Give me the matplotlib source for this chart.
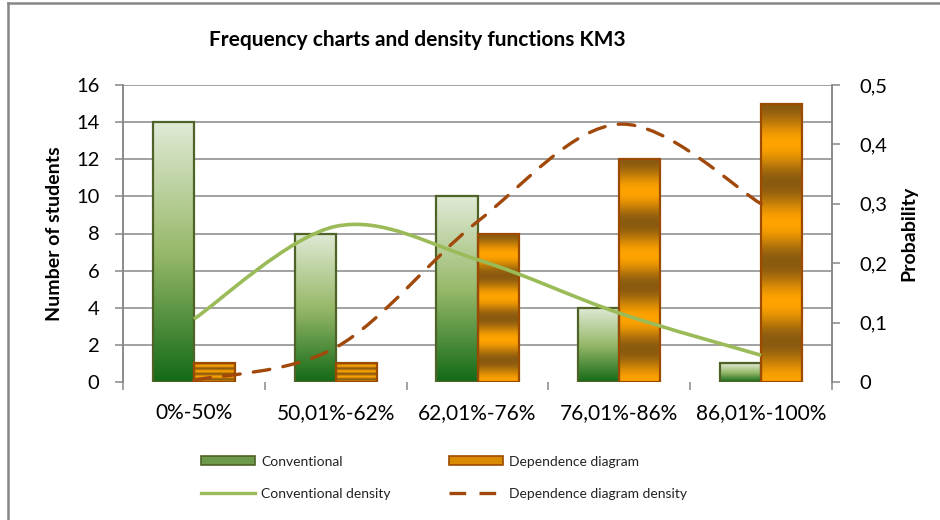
import numpy as np
import matplotlib
matplotlib.use("Agg")
import matplotlib.pyplot as plt
from matplotlib.path import Path
from matplotlib.patches import PathPatch, Patch
from matplotlib.lines import Line2D
from matplotlib.colors import to_rgb

categories = ["0%-50%", "50,01%-62%", "62,01%-76%", "76,01%-86%", "86,01%-100%"]
conventional = [14, 8, 10, 4, 1]
dependence = [1, 1, 8, 12, 15]
conv_density = [0.106, 0.262, 0.206, 0.116, 0.045]
dep_density = [0.003, 0.058, 0.27, 0.434, 0.30]
left_ticks = [0, 2, 4, 6, 8, 10, 12, 14, 16]
right_ticks = [0, 0.1, 0.2, 0.3, 0.4, 0.5]
right_labels = ["0", "0,1", "0,2", "0,3", "0,4", "0,5"]

plt.rcParams['font.family'] = ['Lato', 'DejaVu Sans']

W, H = 940, 520
fig = plt.figure(figsize=(W / 100, H / 100), dpi=100)
L, R, T, B = 123, 832, 85, 382
ax = fig.add_axes([L / W, 1 - B / H, (R - L) / W, (B - T) / H])
ax2 = ax.twinx()

x = np.arange(len(categories))
bw = 0.29
gray = "#878787"

green_edge = "#4F6228"
orange_edge = "#9C4A00"
bars_g = ax.bar(x - bw / 2, conventional, width=bw, facecolor="none",
                edgecolor=green_edge, linewidth=1.6, zorder=3)
bars_o = ax.bar(x + bw / 2, dependence, width=bw, facecolor="none",
                edgecolor=orange_edge, linewidth=1.6, zorder=3)

g_bot, g_mid, g_top = np.array(to_rgb("#136A17")), np.array(to_rgb("#98B96A")), np.array(to_rgb("#E0EAD6"))
o_or, o_br = np.array(to_rgb("#FFA300")), np.array(to_rgb("#8A5A10"))
N = 200
t = np.linspace(0, 1, N)[:, None]
green_img = np.where(t < 0.5, g_bot + (g_mid - g_bot) * (t / 0.5), g_mid + (g_top - g_mid) * ((t - 0.5) / 0.5))
c = (1 + np.cos(2 * np.pi * 3.5 * (1 - t))) / 2
orange_img = o_or * (1 - c) + o_br * c

for bars, img in ((bars_g, green_img), (bars_o, orange_img)):
    for p in bars:
        x0, y0, w, h = p.get_x(), p.get_y(), p.get_width(), p.get_height()
        im = ax.imshow(img[:, None, :], extent=[x0, x0 + w, y0, y0 + h], origin="lower",
                       aspect="auto", zorder=2.5, interpolation="bilinear")
        im.set_clip_path(p)

ax.set_xlim(-0.5, len(categories) - 0.5)
ax.set_ylim(0, 16)
ax.set_yticks(left_ticks)
ax.set_yticklabels([str(v) for v in left_ticks])
ax.set_axisbelow(True)
ax.yaxis.grid(True, color=gray, linewidth=1.1)
ax.yaxis.get_gridlines()[0].set_visible(False)

ax.set_xticks(x)
ax.set_xticklabels(categories)
ax.set_xticks(np.arange(-0.5, len(categories)), minor=True)
ax.tick_params(axis="x", which="major", length=0, pad=15, labelsize=15)
ax.tick_params(axis="x", which="minor", length=6, color=gray, width=1.1)
ax.tick_params(axis="y", length=6, color=gray, width=1.1, labelsize=14.5, pad=11)

for s in ["top", "bottom"]:
    ax.spines[s].set_visible(False)
    ax2.spines[s].set_visible(False)
for a in (ax, ax2):
    a.spines["left"].set_color(gray)
    a.spines["right"].set_color(gray)
    a.spines["left"].set_linewidth(1.1)
    a.spines["right"].set_linewidth(1.1)

ax2.set_ylim(0, 0.5)
ax2.set_yticks(right_ticks)
ax2.set_yticklabels(right_labels)
ax2.tick_params(axis="y", length=6, color=gray, width=1.1, labelsize=14.5, pad=14)

ax.set_ylabel("Number of students", fontsize=14, fontweight="bold")
ax2.set_ylabel("Probability", fontsize=14, fontweight="bold")
ax.yaxis.set_label_coords((63 - L) / (R - L), 0.5)
ax2.yaxis.set_label_coords((900 - L) / (R - L), 0.5)


def smooth_path(xs, ys):
    pts = np.column_stack([xs, ys]).astype(float)
    n = len(pts)
    verts = [pts[0]]
    codes = [Path.MOVETO]
    for i in range(n - 1):
        p0 = pts[max(i - 1, 0)]
        p1 = pts[i]
        p2 = pts[i + 1]
        p3 = pts[min(i + 2, n - 1)]
        c1 = p1 + (p2 - p0) / 6
        c2 = p2 - (p3 - p1) / 6
        verts += [c1, c2, p2]
        codes += [Path.CURVE4] * 3
    return Path(verts, codes)


green_line = "#9BBB59"
dash_col = "#A0490B"
ax2.add_patch(PathPatch(smooth_path(x, conv_density), facecolor="none",
                        edgecolor=green_line, linewidth=2.6, zorder=5))
ax2.add_patch(PathPatch(smooth_path(x, dep_density), facecolor="none",
                        edgecolor=dash_col, linewidth=2.4, linestyle=(0, (5, 4)),
                        capstyle="round", zorder=5))

fig.text(417 / W, 1 - 40 / H, "Frequency charts and density functions KM3",
         ha="center", va="center", fontsize=15, fontweight="bold")

h_conv = Patch(facecolor="#6E9A4C", edgecolor=green_edge, linewidth=1.2)
h_dep = Patch(facecolor="#D98A00", edgecolor=orange_edge, linewidth=1.2)
h_cd = Line2D([], [], color=green_line, linewidth=2.4)
h_dd = Line2D([], [], color=dash_col, linewidth=2.4, linestyle=(0, (5, 4)))
handles = [h_conv, h_cd, h_dep, h_dd]
labels = ["Conventional", "Conventional density", "Dependence diagram", "Dependence diagram density"]
leg = fig.legend(handles, labels, ncol=2, loc="upper left",
                 bbox_to_anchor=(188 / W, 1 - 443 / H), frameon=False,
                 fontsize=10, handlelength=3.9, handleheight=0.6, handletextpad=0.45,
                 columnspacing=4.2, labelspacing=1.45, labelcolor="#222222")

fig.add_artist(Line2D([8 / W, 8 / W], [0, 1 - 3 / H], color=gray, linewidth=1.8))
fig.add_artist(Line2D([8 / W, 1], [1 - 3 / H, 1 - 3 / H], color=gray, linewidth=1.8))

fig.savefig("out.png", dpi=100)
